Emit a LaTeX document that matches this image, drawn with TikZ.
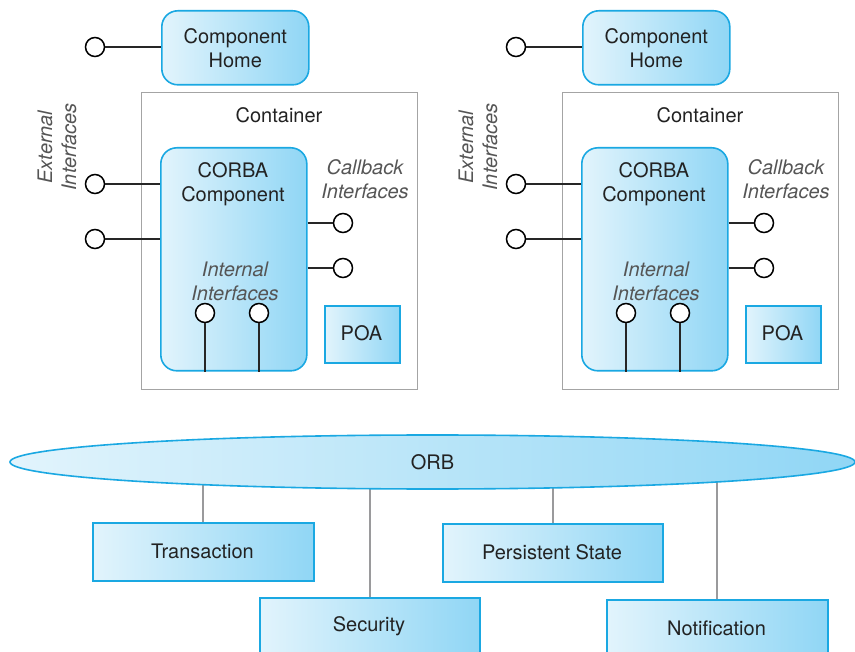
\documentclass[tikz,border=0pt]{standalone}
\usepackage{fontspec}
\setmainfont{TeX Gyre Heros}
\usetikzlibrary{shapes.geometric,backgrounds}
\definecolor{bord}{HTML}{1AA8E2}
\definecolor{lightc}{HTML}{E2F4FC}
\definecolor{darkc}{HTML}{90D6F5}
\definecolor{txt}{HTML}{222222}
\definecolor{itx}{HTML}{555555}
\definecolor{grayline}{HTML}{9A9A9C}
\definecolor{contb}{HTML}{A4A4A4}
\begin{document}
\begin{tikzpicture}[x=1pt,y=-1pt,
  every node/.style={font=\fontsize{20}{24}\selectfont, text=txt},
  bluebox/.style={draw=bord, line width=1.6pt, left color=lightc, right color=darkc,
    anchor=north west, inner sep=0pt},
  roundbox/.style={bluebox, rounded corners=16pt},
  contbox/.style={draw=contb, line width=1.2pt, anchor=north west, inner sep=0pt},
  port/.style={circle, draw=black, line width=1.5pt, fill=white, minimum size=19pt, inner sep=0pt},
  conn/.style={line width=1.5pt, draw=black!85},
  gconn/.style={line width=2.2pt, draw=grayline},
  ilabel/.style={font=\itshape\fontsize{20}{24}\selectfont, text=itx, align=center}
]
\clip (0,0) rectangle (855,652);

\foreach \dx/\s in {0/L,421/R}{
  \begin{scope}[xshift=\dx pt]
  % component home
  \node[roundbox, minimum width=147pt, minimum height=74pt, align=center] (home\s) at (161,10) {Component\\Home};
  \node[port] (hp\s) at (95,47) {};
  \draw[conn] (hp\s.east) -- (hp\s.east -| home\s.west);
  % container
  \node[contbox, minimum width=276pt, minimum height=297pt] (cont\s) at (141,92) {};
  \node (ct\s) at (279,115) {Container};
  % corba component
  \node[roundbox, minimum width=146pt, minimum height=223pt] (comp\s) at (160,147) {};
  \node[align=center] (ctx\s) at (233,184) {CORBA\\Component};
  % external interfaces
  \node[ilabel, rotate=90] (ext\s) at (57,147) {External\\Interfaces};
  \node[port] (e1\s) at (95,184) {};
  \node[port] (e2\s) at (95,239) {};
  \draw[conn] (e1\s.east) -- (e1\s.east -| comp\s.west);
  \draw[conn] (e2\s.east) -- (e2\s.east -| comp\s.west);
  % callback interfaces
  \node[ilabel] (cb\s) at (365,179) {Callback\\Interfaces};
  \node[port] (c1\s) at (343,223) {};
  \node[port] (c2\s) at (343,268) {};
  \draw[conn] (c1\s.west -| comp\s.east) -- (c1\s.west);
  \draw[conn] (c2\s.west -| comp\s.east) -- (c2\s.west);
  % internal interfaces
  \node[ilabel] (ii\s) at (235,281) {Internal\\Interfaces};
  \node[port] (i1\s) at (205,313) {};
  \node[port] (i2\s) at (259,313) {};
  \draw[conn] (i1\s.south) -- (i1\s.south |- comp\s.south);
  \draw[conn] (i2\s.south) -- (i2\s.south |- comp\s.south);
  % POA
  \node[bluebox, minimum width=75pt, minimum height=57pt] (poa\s) at (324,305) {};
  \node (poat\s) at (361.5,333.5) {POA};
  \end{scope}
}

% ORB
\node[ellipse, draw=bord, line width=1.6pt, left color=lightc, right color=darkc,
  minimum width=845pt, minimum height=54pt, inner sep=0pt] (orb) at (432.5,462) {ORB};

% services
\node[bluebox, minimum width=221pt, minimum height=58pt] (tr) at (92,522) {};
\node (trt) at (202.5,551) {Transaction};
\node[bluebox, minimum width=220pt, minimum height=58pt] (sec) at (259,597) {};
\node (sect) at (369,626) {Security};
\node[bluebox, minimum width=220pt, minimum height=58pt] (ps) at (442,523) {};
\node (pst) at (552,552) {Persistent State};
\node[bluebox, minimum width=221pt, minimum height=58pt] (no) at (606,599) {};
\node (not) at (716.5,628) {Notification};

\begin{scope}[on background layer]
  \draw[gconn] (tr.north) -- (tr.north |- orb.center);
  \draw[gconn] (sec.north) -- (sec.north |- orb.center);
  \draw[gconn] (ps.north) -- (ps.north |- orb.center);
  \draw[gconn] (no.north) -- (no.north |- orb.center);
\end{scope}
\end{tikzpicture}
\end{document}
